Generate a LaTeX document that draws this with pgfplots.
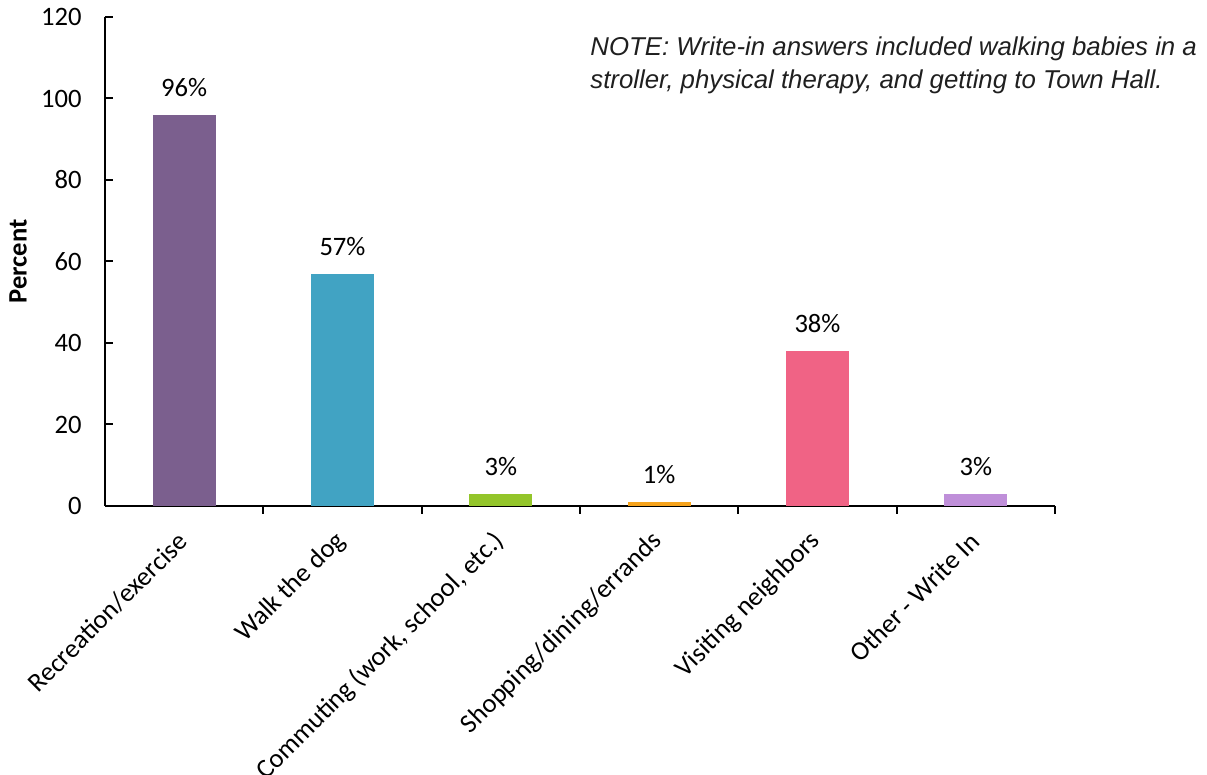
\documentclass[border=0pt]{standalone}
\usepackage{pgfplots}
\pgfplotsset{compat=1.18}
\usepackage{fontspec}
\setmainfont{Carlito}
\newfontfamily\notefont{Liberation Sans}
\definecolor{cPurple}{HTML}{7B5F8E}
\definecolor{cBlue}{HTML}{41A3C3}
\definecolor{cGreen}{HTML}{93C52A}
\definecolor{cOrange}{HTML}{F5A21B}
\definecolor{cPink}{HTML}{F06385}
\definecolor{cLilac}{HTML}{BF8FD9}
\begin{document}
\begin{tikzpicture}[font=\fontsize{13.3}{16}\selectfont]
\begin{axis}[
  at={(0,0)}, anchor=south west,
  scale only axis, width=475pt, height=244.5pt,
  xmin=-0.5, xmax=5.5, ymin=0, ymax=120,
  ytick={0,20,...,120},
  xtick={0,...,5},
  xticklabels={Recreation/exercise,Walk the dog,{Commuting (work, school, etc.)},Shopping/dining/errands,Visiting neighbors,Other - Write In},
  minor xtick={0.5,1.5,...,5.5},
  every major x tick/.style={draw=none},
  axis x line*=bottom, axis y line*=left,
  axis line style={line width=1pt, -},
  tick style={line width=1pt, black},
  major tick length=4pt, minor tick length=4pt,
  /pgf/number format/assume math mode=true,
  xticklabel style={yshift=-11.5pt, xshift=-0.5pt, rotate=45, anchor=east, inner sep=0pt},
  yticklabel style={anchor=east, inner sep=0pt, xshift=-11.5pt},
  ylabel={\bfseries Percent},
  ylabel style={at={(axis description cs:-0.0916,0.5)}, anchor=center},
  ybar, bar width=31.5pt,
  nodes near coords={\pgfmathprintnumber{\pgfplotspointmeta}\%},
  every node near coord/.append style={anchor=south, inner sep=0pt, yshift=9pt, black, font=\fontsize{13.3}{16}\selectfont},
]
\addplot[fill=cPurple, draw=none, bar shift=0pt] coordinates {(0,96)};
\addplot[fill=cBlue, draw=none, bar shift=0pt] coordinates {(1,57)};
\addplot[fill=cGreen, draw=none, bar shift=0pt] coordinates {(2,3)};
\addplot[fill=cOrange, draw=none, bar shift=0pt] coordinates {(3,1)};
\addplot[fill=cPink, draw=none, bar shift=0pt] coordinates {(4,38)};
\addplot[fill=cLilac, draw=none, bar shift=0pt] coordinates {(5,3)};
\end{axis}
\node[anchor=north west, inner sep=0pt, align=left, font=\notefont\itshape\fontsize{12.9}{16.3}\selectfont, text=black!88] at (242.5pt,234.6pt)
  {NOTE: Write-in answers included walking babies in a\\stroller, physical therapy, and getting to Town Hall.};
\pgfresetboundingbox
\useasboundingbox (-52.5pt,-134.5pt) rectangle (551pt,253pt);
\end{tikzpicture}
\end{document}
